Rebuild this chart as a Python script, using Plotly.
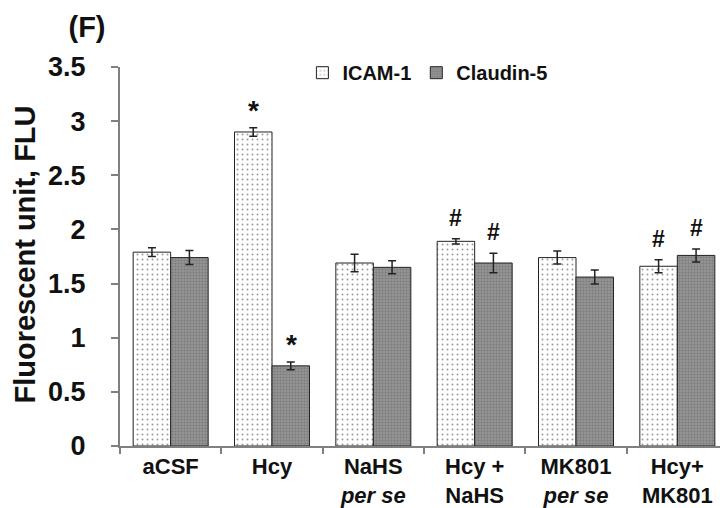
import plotly.graph_objects as go

categories = ["aCSF", "Hcy", "NaHS<br><i>per se</i>", "Hcy +<br>NaHS", "MK801<br><i>per se</i>", "Hcy+<br>MK801"]
icam = [1.79, 2.90, 1.69, 1.89, 1.74, 1.66]
icam_err = [0.04, 0.04, 0.08, 0.025, 0.06, 0.06]
claudin = [1.74, 0.74, 1.65, 1.69, 1.56, 1.76]
claudin_err = [0.065, 0.035, 0.06, 0.09, 0.065, 0.06]
# significance marks: (category index, series 0=ICAM/1=Claudin, symbol)
marks = [(1, 0, "*"), (1, 1, "*"), (3, 0, "#"), (3, 1, "#"), (5, 0, "#"), (5, 1, "#")]

FONT = "Liberation Sans, Arial, sans-serif"

fig = go.Figure()
fig.add_trace(go.Bar(
    name="ICAM-1", x=categories, y=icam,
    marker=dict(color="white", line=dict(color="#222", width=1),
                pattern=dict(shape=".", fgcolor="#333", bgcolor="white", size=5, solidity=0.12)),
    error_y=dict(type="data", array=icam_err, color="#222", thickness=1.5, width=4),
))
fig.add_trace(go.Bar(
    name="Claudin-5", x=categories, y=claudin,
    marker=dict(color="#808080", line=dict(color="#222", width=1),
                pattern=dict(shape=".", fgcolor="#666", bgcolor="#999", size=3, solidity=0.5)),
    error_y=dict(type="data", array=claudin_err, color="#222", thickness=1.5, width=4),
))

series_vals = [icam, claudin]
series_err = [icam_err, claudin_err]
for ci, si, sym in marks:
    yv = series_vals[si][ci] + series_err[si][ci]
    fig.add_annotation(
        x=categories[ci], y=yv, xref="x", yref="y", text=sym, showarrow=False,
        xshift=-19 if si == 0 else 19, yanchor="bottom", yshift=6 if sym == "#" else 0,
        font=dict(family=FONT, size=28 if sym == "*" else 23, color="#111", weight="bold"),
    )

fig.add_annotation(text="Fluorescent unit, FLU", xref="paper", yref="paper", x=-0.157, y=0.504,
                   xanchor="center", yanchor="middle", showarrow=False, textangle=-90,
                   font=dict(family=FONT, size=29, color="#111", weight="bold"))

# The page body adds an 8px offset, so the figure is 8px smaller and margins compensate.
fig.update_layout(
    width=720, height=500,
    margin=dict(l=112, r=0, t=59, b=62, autoexpand=False),
    paper_bgcolor="white", plot_bgcolor="white",
    title=dict(text="(F)", x=79 / 720, xanchor="center", xref="container",
               y=0.982, yanchor="top", yref="container", pad=dict(t=0, b=0, l=0, r=0),
               font=dict(family=FONT, size=29, color="#111", weight="bold")),
    barmode="group", bargap=0.26, bargroupgap=0,
    font=dict(family=FONT, color="#111"),
    showlegend=True,
    legend=dict(orientation="h", x=0.3, y=0.985, xanchor="left", yanchor="middle",
                font=dict(family=FONT, size=20, weight="bold"), bgcolor="rgba(0,0,0,0)",
                itemwidth=30, tracegroupgap=0),
    xaxis=dict(showline=True, linecolor="#808080", linewidth=2, ticks="outside",
               tickson="boundaries", ticklen=6, tickcolor="#808080", tickwidth=2,
               tickfont=dict(family=FONT, size=22, weight="bold", color="#111"),
               showgrid=False, automargin=False),
    yaxis=dict(range=[0, 3.5], dtick=0.5, showline=True, linecolor="#808080", linewidth=2,
               ticks="outside", ticklen=7, tickcolor="#808080", tickwidth=2,
               tickfont=dict(family=FONT, size=27, weight="bold", color="#111"),
               showgrid=False, zeroline=False, ticklabelstandoff=20, automargin=False),
)

fig.write_html("out.html")
